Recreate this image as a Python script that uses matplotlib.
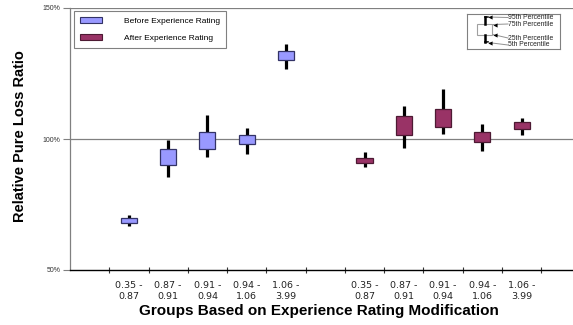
import numpy as np
import matplotlib.pyplot as plt
from matplotlib.patches import Patch, Rectangle

plt.rcParams['font.family'] = ['Liberation Sans', 'DejaVu Sans']

# modification groups (same ranges used before and after)
groups = ["0.35 -\n0.87", "0.87 -\n0.91", "0.91 -\n0.94", "0.94 -\n1.06", "1.06 -\n3.99"]

# percentiles of relative pure loss ratio (%), before experience rating
before_p5 = [66.9, 85.4, 93.2, 94.4, 126.6]
before_p25 = [68.1, 90.1, 96.1, 98.0, 130.0]
before_p75 = [69.7, 96.1, 102.6, 101.5, 133.7]
before_p95 = [71.0, 99.6, 109.2, 104.3, 136.3]

# after experience rating
after_p5 = [89.2, 96.7, 102.0, 95.5, 101.4]
after_p25 = [90.7, 101.6, 104.7, 99.0, 103.7]
after_p75 = [92.9, 108.7, 111.4, 102.6, 106.4]
after_p95 = [94.9, 112.6, 119.1, 105.7, 108.0]

before_color = "#9999ff"
after_color = "#993366"

W, H = 573, 325
fig = plt.figure(figsize=(W / 100, H / 100), dpi=100)
# plot area runs a little past the right edge of the figure
ax = fig.add_axes([70 / W, 55 / H, 510.5 / W, 262 / H])

x_before = np.arange(1, 6)
x_after = np.arange(7, 12)
bw = 0.41


def draw_boxes(x, p5, p25, p75, p95, color, edge):
    p5, p25, p75, p95 = map(np.asarray, (p5, p25, p75, p95))
    ax.vlines(x, p5, p95, color="black", lw=2.3, zorder=2)
    ax.bar(x, p75 - p25, bottom=p25, width=bw, color=color,
           edgecolor=edge, linewidth=0.9, zorder=3)


draw_boxes(x_before, before_p5, before_p25, before_p75, before_p95, before_color, "#333366")
draw_boxes(x_after, after_p5, after_p25, after_p75, after_p95, after_color, "#4d1a33")

ax.set_xlim(-0.5, 12.5)
ax.set_ylim(50, 150)

ax.set_yticks([50, 100, 150])
ax.set_yticklabels(["50%", "100%", "150%"], fontsize=5, color="#333333")
ax.tick_params(axis="y", length=5, width=0.8, color="#808080", pad=2)
for yv in (100, 150):
    ax.axhline(yv, color="#808080", lw=0.9, zorder=1)

# tick marks between categories, labels at the centres
ax.set_xticks(np.arange(0.5, 12.5, 1.0))
ax.set_xticklabels([])
ax.tick_params(axis="x", which="major", direction="inout", length=5, width=0.8, color="#333333")
ax.set_xticks(np.concatenate([x_before, x_after]), minor=True)
ax.set_xticklabels(groups + groups, minor=True, fontsize=6.8, color="#222222",
                   linespacing=1.2, family="DejaVu Sans")
ax.tick_params(axis="x", which="minor", length=0, pad=8)

for side in ("top", "right"):
    ax.spines[side].set_visible(False)
ax.spines["left"].set_color("#808080")
ax.spines["left"].set_linewidth(0.9)
ax.spines["bottom"].set_color("black")
ax.spines["bottom"].set_linewidth(1.0)

fig.text(20 / W, 1 - 136 / H, "Relative Pure Loss Ratio", rotation=90, fontsize=10.5,
         fontweight="bold", ha="center", va="center")
fig.text(319 / W, 1 - 311 / H, "Groups Based on Experience Rating Modification",
         fontsize=11, fontweight="bold", ha="center", va="center")

handles = [Patch(facecolor=before_color, edgecolor="#333366", lw=0.8),
           Patch(facecolor=after_color, edgecolor="#4d1a33", lw=0.8)]
leg = fig.legend(handles, ["Before Experience Rating", "After Experience Rating"],
                 loc="upper left", bbox_to_anchor=(74 / W, 1 - 11 / H), borderaxespad=0,
                 fontsize=6, handlelength=2.6, handleheight=0.8, handletextpad=2.7,
                 labelspacing=1.1, borderpad=0.7, fancybox=False, framealpha=1)
leg.get_frame().set_edgecolor("#808080")
leg.get_frame().set_linewidth(0.8)

# percentile key, drawn in pixel units of its own little axes
kx = fig.add_axes([467 / W, 1 - 49 / H, 93 / W, 35 / H])
kx.set_xlim(0, 93)
kx.set_ylim(35, 0)
kx.set_xticks([])
kx.set_yticks([])
for s in kx.spines.values():
    s.set_color("#808080")
    s.set_linewidth(0.8)
kx.add_patch(Rectangle((10, 10), 15, 10.5, facecolor="white", edgecolor="#a0a0a0", lw=0.8))
kx.plot([18, 18], [2.5, 10], color="black", lw=1.8)
kx.plot([18, 18], [20.5, 28], color="black", lw=1.8)
kx.plot([18, 21], [2.5, 2.5], color="black", lw=1.2)
kx.plot([18, 21], [28, 28], color="black", lw=1.2)
# (label y, label, arrow y, arrow tip x)
key_rows = [(3.5, "95th Percentile", 3.0, 21), (10.0, "75th Percentile", 10.5, 26),
            (24.0, "25th Percentile", 20.5, 26), (31.0, "5th Percentile", 28.5, 21)]
for yt, txt, ya, xtip in key_rows:
    kx.plot([xtip, 41], [ya, yt], color="#909090", lw=0.7)
    kx.plot(xtip + 1.5, ya, marker="<", ms=3, color="black", mew=0)
    kx.text(41, yt, txt, fontsize=4.9, va="center", ha="left", color="#222222")

fig.savefig("out.png", dpi=100)
